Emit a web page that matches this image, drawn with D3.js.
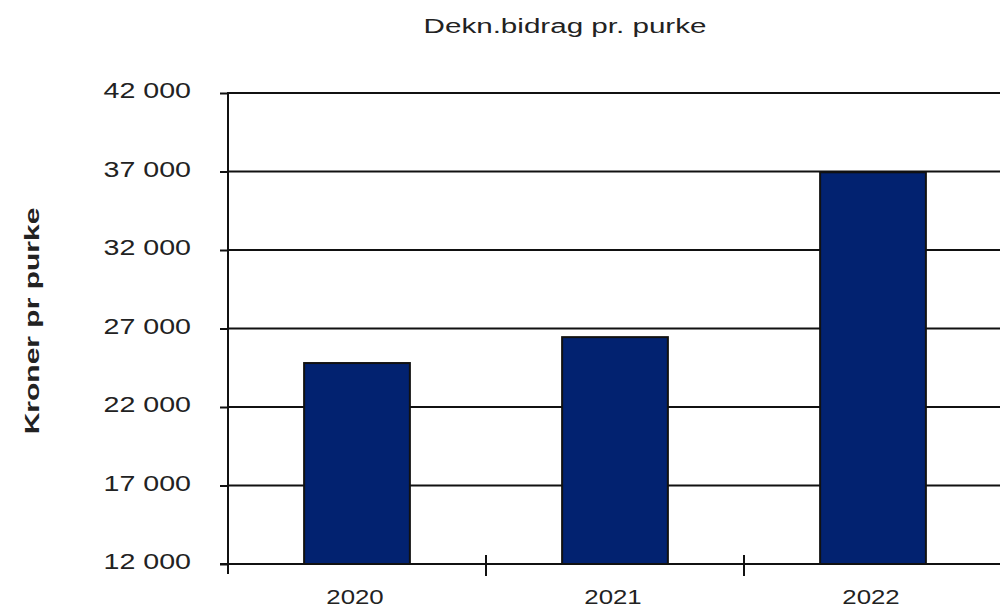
<!DOCTYPE html>
<html>
<head>
<meta charset="utf-8">
<script src="https://cdn.jsdelivr.net/npm/d3@7"></script>
<style>
  body { margin: 0; background: #fff; }
  text { font-family: "Liberation Sans", Arial, sans-serif; fill: #222; }
</style>
</head>
<body>
<div id="chart"></div>
<script>
var years  = ["2020", "2021", "2022"];
var values = [24800, 26450, 36950];
var yTicks = [12000, 17000, 22000, 27000, 32000, 37000, 42000];

var width   = 1000,
    height  = 613,
    plotL   = 228,
    plotT   = 93,
    plotB   = 564,
    plotR   = 1002;

var svg = d3.select("#chart").append("svg")
    .attr("width", width)
    .attr("height", height);

var x = d3.scaleBand()
    .domain(years)
    .range([plotL, plotR])
    .paddingInner(0.59)
    .paddingOuter(0.295);

var y = d3.scaleLinear()
    .domain([12000, 42000])
    .range([plotB, plotT]);

var fmt = function(d) { return d3.format(",")(d).replace(/,/g, " "); };

// gridlines
svg.append("g")
    .selectAll("line")
    .data(yTicks.slice(1))
    .enter()
    .append("line")
    .attr("x1", plotL)
    .attr("x2", width)
    .attr("y1", function(d) { return y(d); })
    .attr("y2", function(d) { return y(d); })
    .style("stroke", "#111")
    .style("stroke-width", 2);

// bars
svg.append("g")
    .selectAll("rect")
    .data(years)
    .enter()
    .append("rect")
    .attr("x", function(d) { return x(d); })
    .attr("y", function(d, i) { return y(values[i]); })
    .attr("width", x.bandwidth())
    .attr("height", function(d, i) { return y(12000) - y(values[i]); })
    .attr("fill", "#022270")
    .style("stroke", "#111")
    .style("stroke-width", 2);

// y axis
var yAxis = d3.axisLeft(y)
    .tickValues(yTicks)
    .tickFormat(fmt)
    .tickSize(8);

var gy = svg.append("g")
    .attr("transform", "translate(" + plotL + ",0)")
    .call(yAxis);
gy.select(".domain").remove();
gy.selectAll(".tick line").style("stroke", "#111").style("stroke-width", 2);
// text in the original is stretched wide, so scale it along the baseline
gy.selectAll(".tick text")
    .attr("x", 0)
    .attr("dy", "0.35em")
    .attr("transform", "translate(-37,-3) scale(1.3,1)")
    .style("font-size", "22px")
    .style("font-family", "'Liberation Sans', Arial, sans-serif")
    .attr("fill", "#222");

svg.append("line")
    .attr("x1", plotL).attr("x2", plotL)
    .attr("y1", plotT - 1).attr("y2", plotB + 10)
    .style("stroke", "#111")
    .style("stroke-width", 2);

// x axis
svg.append("line")
    .attr("x1", plotL - 8).attr("x2", width)
    .attr("y1", plotB).attr("y2", plotB)
    .style("stroke", "#111")
    .style("stroke-width", 2);

var step = x.step();
svg.append("g")
    .selectAll("line")
    .data(years.slice(1))
    .enter()
    .append("line")
    .attr("x1", function(d) { return x(d) - x.paddingInner() * step / 2; })
    .attr("x2", function(d) { return x(d) - x.paddingInner() * step / 2; })
    .attr("y1", plotB - 9)
    .attr("y2", plotB + 12)
    .style("stroke", "#111")
    .style("stroke-width", 2);

svg.append("g")
    .selectAll("text")
    .data(years)
    .enter()
    .append("text")
    .attr("transform", function(d) {
        return "translate(" + (x(d) + x.bandwidth() / 2 - 2) + ",604) scale(1.23,1)";
    })
    .attr("text-anchor", "middle")
    .style("font-size", "21px")
    .text(function(d) { return d; });

// title
svg.append("text")
    .attr("transform", "translate(565,33) scale(1.48,1)")
    .attr("text-anchor", "middle")
    .style("font-size", "20px")
    .text("Dekn.bidrag pr. purke");

// y label
svg.append("text")
    .attr("transform", "translate(39,321) rotate(-90) scale(1.5,1)")
    .attr("text-anchor", "middle")
    .style("font-size", "20px")
    .style("font-weight", "bold")
    .text("Kroner pr purke");
</script>
</body>
</html>
